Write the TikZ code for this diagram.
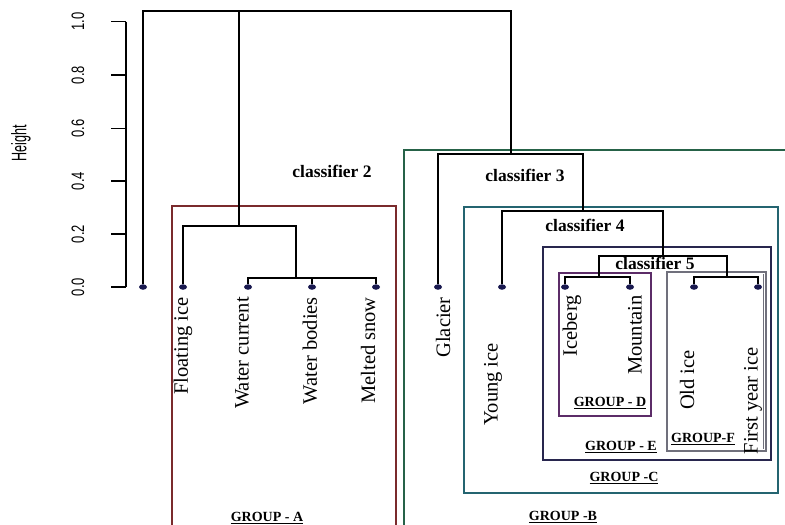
\documentclass[tikz,border=0pt]{standalone}
\usepackage{fontspec}
\setmainfont{Liberation Serif}
\newfontfamily\axisfont[FakeStretch=0.72]{Liberation Sans}
\newfontfamily\ylabfont[FakeStretch=0.6]{Liberation Sans}
\usepackage{xcolor}
\usepackage{tikz}
\usetikzlibrary{shapes.geometric, calc}

\definecolor{grpAcol}{RGB}{122,42,44}
\definecolor{grpBcol}{RGB}{38,98,72}
\definecolor{grpCcol}{RGB}{36,100,112}
\definecolor{grpDcol}{RGB}{92,44,104}
\definecolor{grpEcol}{RGB}{40,38,78}
\definecolor{grpFcol}{RGB}{112,112,124}
\definecolor{leafcol}{RGB}{26,26,80}

\tikzset{
  dend/.style={black, line width=1.4pt},
  leafdot/.style={ellipse, fill=leafcol, inner sep=0pt, minimum width=8pt, minimum height=5.5pt},
  leaflabel/.style={rotate=90, anchor=east, inner sep=0pt, font=\fontsize{20.5}{20.5}\selectfont},
  clf/.style={font=\fontsize{17.5}{17.5}\selectfont\bfseries},
  grp/.style={font=\fontsize{14}{14}\selectfont\bfseries},
  grpbox/.style={line width=1.5pt},
  ticklabel/.style={rotate=90, font=\axisfont\fontsize{18}{18}\selectfont}
}

\begin{document}
\begin{tikzpicture}[x=1pt, y=-1pt]
\useasboundingbox (0,0) rectangle (785,525);
\clip (0,0) rectangle (785,525);
% Axis
\draw[line width=1.3pt] (126,21.7) -- (126,287);
\foreach \v/\yy in {0.0/287, 0.2/234, 0.4/181, 0.6/128.4, 0.8/75.1, 1.0/21.7} {
  \draw[line width=1.3pt] (111,\yy) -- (126,\yy);
  \node[ticklabel] (tick-\v) at (78,\yy) {\v};
}
\node[rotate=90, font=\ylabfont\fontsize{21}{21}\selectfont] (ylab) at (21,143) {Height};
% Group boxes
\draw[grpbox, grpAcol] (172,206) rectangle (396,540);
\draw[grpbox, grpBcol] (404,150) rectangle (800,540);
\draw[grpbox, grpCcol] (464,207) rectangle (778,493);
\draw[grpbox, grpEcol] (543,247) rectangle (771,460);
\draw[grpbox, grpDcol] (559,273) rectangle (651,416);
\draw[grpbox, grpFcol] (667,272) rectangle (766,451);
\draw[line width=0.8pt, grpFcol] (763,274) -- (763,449);
% Merge points
\coordinate (root) at (239,11);
\coordinate (cA) at (239,226);
\coordinate (cA2) at (296,278);
\coordinate (cB) at (511,154);
\coordinate (cC) at (583,211);
\coordinate (cE) at (663,256);
\coordinate (cD) at (599,277);
\coordinate (cF) at (727,277);
% Leaves
\node[leafdot] (l0) at (143,287) {};
\node[leafdot] (fl) at (183,287) {};
\node[leafdot] (wc) at (248,287) {};
\node[leafdot] (wb) at (312,287) {};
\node[leafdot] (ms) at (376,287) {};
\node[leafdot] (gl) at (438,287) {};
\node[leafdot] (yi) at (502,287) {};
\node[leafdot] (ib) at (565,287) {};
\node[leafdot] (mt) at (630,287) {};
\node[leafdot] (oi) at (694,287) {};
\node[leafdot] (fy) at (758,287) {};
% Dendrogram
\draw[dend] (l0) |- (root) -| (cB);
\draw[dend] (root) -- (cA);
\draw[dend] (fl) |- (cA) -| (cA2);
\draw[dend] (wc) |- (cA2) -| (ms);
\draw[dend] (wb) -- (wb|-cA2);
\draw[dend] (gl) |- (cB) -| (cC);
\draw[dend] (yi) |- (cC) -| (cE);
\draw[dend] (cD) |- (cE) -| (cF);
\draw[dend] (ib) |- (cD) -| (mt);
\draw[dend] (oi) |- (cF) -| (fy);
% Leaf labels
\node[leaflabel] (t-fl) at (183,297) {Floating ice};
\node[leaflabel] (t-wc) at (242,297) {Water current};
\node[leaflabel] (t-wb) at (310,297) {Water bodies};
\node[leaflabel] (t-ms) at (368,297) {Melted snow};
\node[leaflabel] (t-gl) at (443,297) {Glacier};
\node[leaflabel] (t-yi) at (493,343) {Young ice};
\node[leaflabel] (t-ib) at (572,295) {Iceberg};
\node[leaflabel] (t-mt) at (635,295) {Mountain};
\node[leaflabel] (t-oi) at (687,350) {Old ice};
\node[leaflabel] (t-fy) at (753,347) {First year ice};
% Classifier labels
\node[clf] (clf2) at (332,171) {classifier 2};
\node[clf] (clf3) at (525,175) {classifier 3};
\node[clf] (clf4) at (585,225) {classifier 4};
\node[clf] (clf5) at (655,263) {classifier 5};
% Group labels
\node[grp] (gA) at (267,518) {\underline{GROUP - A}};
\node[grp] (gB) at (563,517) {\underline{GROUP -B}};
\node[grp] (gC) at (624,478) {\underline{GROUP -C}};
\node[grp] (gE) at (621,447) {\underline{GROUP - E}};
\node[grp] (gD) at (610,403) {\underline{GROUP - D}};
\node[grp] (gF) at (703,439) {\underline{GROUP-F}};
\end{tikzpicture}
\end{document}
